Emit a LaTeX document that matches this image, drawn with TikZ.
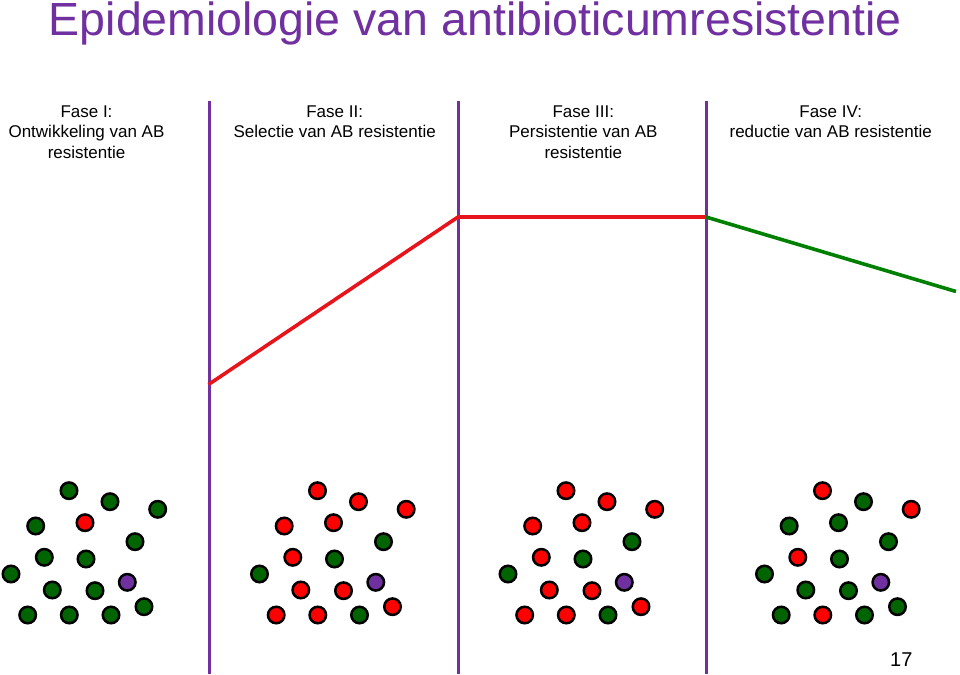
\documentclass[tikz,border=0pt]{standalone}
\usepackage{fontspec}
\setmainfont{Liberation Sans}
\definecolor{vpurple}{HTML}{7030A0}
\definecolor{dgreen}{HTML}{006400}
\definecolor{lgreen}{HTML}{008000}
\definecolor{lred}{HTML}{E8141B}
\definecolor{dred}{HTML}{FF0000}
\begin{document}
\begin{tikzpicture}[x=1pt,y=-1pt,
  dot/.style={circle, draw=black, line width=2.5pt, minimum size=16.5pt, inner sep=0pt},
  divider/.style={draw=vpurple, line width=3pt},
  curve/.style={line width=3.6pt},
  header/.style={align=center, anchor=base, font=\fontsize{17}{20.6}\selectfont},
]
\useasboundingbox (0,0) rectangle (960,674);

% title
\node[anchor=base, text=vpurple, font=\fontsize{46.5}{50}\selectfont, inner sep=0pt] (title) at (475.3,36) {Epidemiologie van antibioticumresistentie};

% headers (base anchor = baseline of last line)
\node[header] (h1) at (86.5,158.2) {Fase I:\\Ontwikkeling van AB\\resistentie};
\node[header] (h2) at (334.7,137.6) {Fase II:\\Selectie van AB resistentie};
\node[header] (h3) at (583.3,158.2) {Fase III:\\Persistentie van AB\\resistentie};
\node[header] (h4) at (830.7,137.6) {Fase IV:\\reductie van AB resistentie};

% dividers
\coordinate (v1t) at (209,101); \coordinate (v1b) at (209,674);
\coordinate (v2t) at (458,101); \coordinate (v2b) at (458,674);
\coordinate (v3t) at (706,101); \coordinate (v3b) at (706,674);
\draw[divider] (v1t) -- (v1b);
\draw[divider] (v2t) -- (v2b);
\draw[divider] (v3t) -- (v3b);

% resistance curve
\coordinate (r0) at (208.5,384.5);
\coordinate (r1) at (458,217);
\coordinate (r2) at (706,217);
\coordinate (g1) at (956,291.5);
\draw[curve, draw=lred] (r0) -- (r1) -- (r2);
\draw[curve, draw=lgreen] (r2) -- (g1);

% cluster 1
\foreach \i/\x/\y/\c in {1/69/490.7/dgreen, 2/110/501.7/dgreen, 3/157.7/509.3/dgreen, 4/35.7/526/dgreen,
  5/85/522.7/dred, 6/135/541.7/dgreen, 7/44.3/557.3/dgreen, 8/86/559/dgreen, 9/11/574/dgreen,
  10/52.3/590/dgreen, 11/95/590.7/dgreen, 12/127.3/582.3/vpurple, 13/27.7/615/dgreen,
  14/69.3/615/dgreen, 15/111/615/dgreen, 16/144/606.7/dgreen}
  \node[dot, fill=\c] (a\i) at (\x,\y) {};

% cluster 2
\foreach \i/\x/\y/\c in {1/69/490.7/dred, 2/110/501.7/dred, 3/157.7/509.3/dred, 4/35.7/526/dred,
  5/85/522.7/dred, 6/135/541.7/dgreen, 7/44.3/557.3/dred, 8/86/559/dgreen, 9/11/574/dgreen,
  10/52.3/590/dred, 11/95/590.7/dred, 12/127.3/582.3/vpurple, 13/27.7/615/dred,
  14/69.3/615/dred, 15/111/615/dgreen, 16/144/606.7/dred}
  \node[dot, fill=\c] (b\i) at (\x+248.5,\y) {};

% cluster 3
\foreach \i/\x/\y/\c in {1/69/490.7/dred, 2/110/501.7/dred, 3/157.7/509.3/dred, 4/35.7/526/dred,
  5/85/522.7/dred, 6/135/541.7/dgreen, 7/44.3/557.3/dred, 8/86/559/dgreen, 9/11/574/dgreen,
  10/52.3/590/dred, 11/95/590.7/dred, 12/127.3/582.3/vpurple, 13/27.7/615/dred,
  14/69.3/615/dred, 15/111/615/dgreen, 16/144/606.7/dred}
  \node[dot, fill=\c] (c\i) at (\x+497,\y) {};

% cluster 4
\foreach \i/\x/\y/\c in {1/69/490.7/dred, 2/110/501.7/dgreen, 3/157.7/509.3/dred, 4/35.7/526/dgreen,
  5/85/522.7/dgreen, 6/135/541.7/dgreen, 7/44.3/557.3/dred, 8/86/559/dgreen, 9/11/574/dgreen,
  10/52.3/590/dgreen, 11/95/590.7/dgreen, 12/127.3/582.3/vpurple, 13/27.7/615/dgreen,
  14/69.3/615/dred, 15/111/615/dgreen, 16/144/606.7/dgreen}
  \node[dot, fill=\c] (d\i) at (\x+753.5,\y) {};

% page number
\node[anchor=base, font=\fontsize{20}{24}\selectfont, inner sep=0pt] (pnum) at (901.3,666.7) {17};
\end{tikzpicture}
\end{document}
